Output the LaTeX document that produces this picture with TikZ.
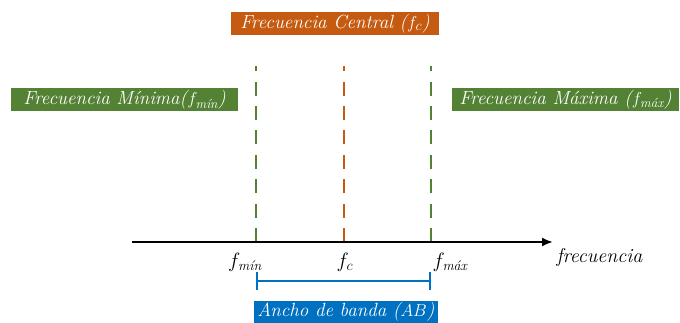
\documentclass[tikz,border=0pt]{standalone}
\usepackage{amsmath}
\usetikzlibrary{positioning,arrows.meta}
\definecolor{naranja}{HTML}{C55A11}
\definecolor{verde}{HTML}{548235}
\definecolor{azul}{HTML}{0070C0}

\begin{document}
\begin{tikzpicture}[x=1pt,y=-1pt,
        etiqueta/.style={fill=#1,text=white,font=\fontsize{19}{22}\selectfont\itshape,minimum height=23pt,inner sep=1pt},
        guia/.style={draw=#1,line width=2pt,dash pattern=on 14pt off 10.4pt},
        valor/.style={font=\fontsize{20}{24}\selectfont}]
    \useasboundingbox (0,0) rectangle (680,323);
    \foreach \n/\x/\col in {min/256/verde,c/343.5/naranja,max/431/verde}{
        \coordinate (\n) at (\x,242);
        \coordinate (top\n) at (\x,66);
        \draw[guia=\col] (\n) -- (top\n);
    }
    \coordinate (ejeini) at (132,242);
    \coordinate (ejefin) at (553,242);
    \draw[line width=2pt,-{Latex[length=11pt,width=9pt]}] (ejeini) -- (ejefin);

    \node[etiqueta=naranja,minimum width=208pt] (central) at (335,23.5) {Frecuencia Central ($f_c$)};
    \node[etiqueta=verde,minimum width=227pt] (minima) at (124.5,100) {Frecuencia Mínima($f_{\textit{mín}}$)};
    \node[etiqueta=verde,minimum width=227pt] (maxima) at (565.5,99.5) {Frecuencia Máxima ($f_{\textit{máx}}$)};

    \node[valor] (lmin) at (245,262) {$f_{\textit{mín}}$};
    \node[valor] (lc) at (345,262) {$f_c$};
    \node[valor] (lmax) at (450,262) {$f_{\textit{máx}}$};
    \node[valor,right=0pt of ejefin,yshift=-15pt] (frec) {\itshape frecuencia};

    \coordinate (abizq) at (256,281);
    \coordinate (abder) at (431,281);
    \draw[azul,line width=2pt,{Bar[width=18pt]}-{Bar[width=18pt]}] (abizq) -- (abder);
    \node[etiqueta=azul,minimum width=184pt] (ancho) at (346,312) {Ancho de banda ($AB$)};
\end{tikzpicture}
\end{document}
